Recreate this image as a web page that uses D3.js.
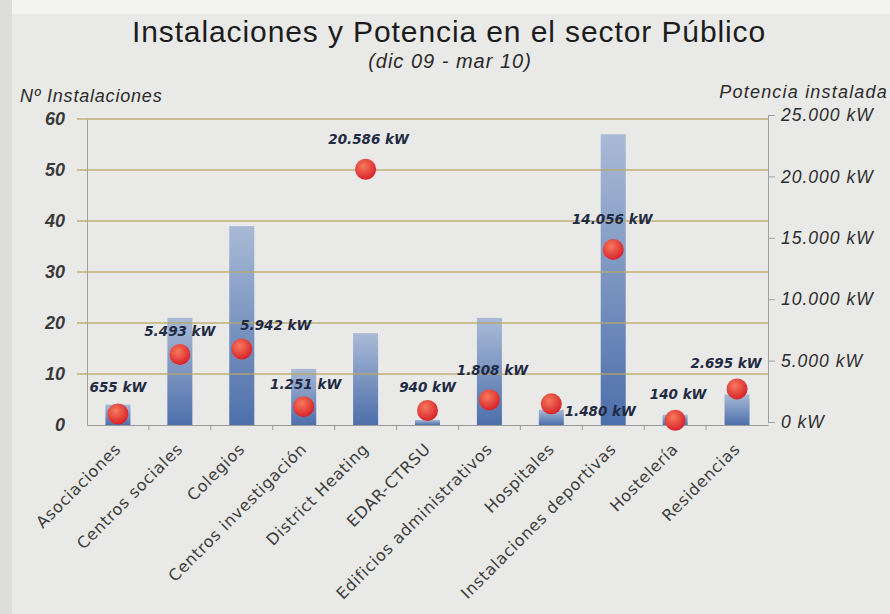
<!DOCTYPE html>
<html>
<head>
<meta charset="utf-8">
<script src="https://cdn.jsdelivr.net/npm/d3@7"></script>
<style>
  body { margin: 0; background: #e9e9e7; }
  svg { display: block; }
</style>
</head>
<body>
<div id="chart"></div>
<script>
// data
const categories = ['Asociaciones', 'Centros sociales', 'Colegios', 'Centros investigación',
    'District Heating', 'EDAR-CTRSU', 'Edificios administrativos', 'Hospitales',
    'Instalaciones deportivas', 'Hostelería', 'Residencias'];
const instalaciones = [4, 21, 39, 11, 18, 1, 21, 3, 57, 2, 6];
const potencia = [655, 5493, 5942, 1251, 20586, 940, 1808, 1480, 14056, 140, 2695];
const leftTicks = [0, 10, 20, 30, 40, 50, 60];
const rightTicks = [0, 5000, 10000, 15000, 20000, 25000];
// label nudges [dx, dy] relative to the dot
const labelNudge = [[0, -22], [0, -19], [34, -19], [2, -18], [3, -25], [0, -18], [3, -25],
    [49, 12], [-1, -25], [3, -21], [-11, -21]];

const width = 890, height = 614;
const plot = { left: 87, right: 768, top: 119, bottom: 425 };

const svg = d3.select('#chart').append('svg')
    .attr('width', width)
    .attr('height', height);

const defs = svg.append('defs');
const barGrad = defs.append('linearGradient').attr('id', 'barGrad')
    .attr('x1', 0).attr('y1', 0).attr('x2', 0).attr('y2', 1);
barGrad.append('stop').attr('offset', '0%').attr('stop-color', '#a9bad6');
barGrad.append('stop').attr('offset', '100%').attr('stop-color', '#4d6fab');
const dotGrad = defs.append('radialGradient').attr('id', 'dotGrad')
    .attr('cx', '40%').attr('cy', '35%').attr('r', '65%');
dotGrad.append('stop').attr('offset', '0%').attr('stop-color', '#f57a5c');
dotGrad.append('stop').attr('offset', '100%').attr('stop-color', '#d9232b');

// scanned paper edge
svg.append('rect').attr('x', 0).attr('y', 0).attr('width', 12).attr('height', height)
    .attr('fill', '#dcdcda');
svg.append('rect').attr('x', 12).attr('y', 0).attr('width', width).attr('height', 14)
    .attr('fill', '#f4f4f2');

// Scales
const x_scale = d3.scaleBand()
    .domain(categories)
    .range([plot.left, plot.right]);

const yL = d3.scaleLinear().domain([0, 60]).range([plot.bottom, plot.top]);
const yR = d3.scaleLinear().domain([0, 25000]).range([422, 115]);

// bars
svg.append('g').selectAll('rect')
    .data(categories)
    .join('rect')
    .attr('x', d => x_scale(d) + x_scale.bandwidth() / 2 - 12.5)
    .attr('width', 25)
    .attr('y', (d, i) => yL(instalaciones[i]))
    .attr('height', (d, i) => yL(0) - yL(instalaciones[i]))
    .attr('fill', 'url(#barGrad)');

// grid lines
svg.append('g').selectAll('line')
    .data(leftTicks.filter(d => d > 0))
    .join('line')
    .attr('x1', plot.left - 10).attr('x2', plot.right)
    .attr('y1', d => yL(d)).attr('y2', d => yL(d))
    .attr('stroke', '#b9a763')
    .attr('stroke-opacity', 0.85)
    .attr('stroke-width', 1.5);

// axes
const x_axis = d3.axisBottom(x_scale).tickSize(0).tickFormat('');
const gx = svg.append('g')
    .attr('transform', `translate(0,${plot.bottom})`)
    .call(x_axis);
gx.select('.domain').attr('stroke', '#9a9a9a').attr('stroke-width', 1.2);
gx.selectAll('.sep')
    .data(d3.range(1, categories.length))
    .join('line')
    .attr('x1', i => plot.left + i * x_scale.step())
    .attr('x2', i => plot.left + i * x_scale.step())
    .attr('y1', 0).attr('y2', 5)
    .attr('stroke', '#9a9a9a');

const y_axisL = d3.axisLeft(yL).tickValues(leftTicks).tickSize(0).tickPadding(22);
const gl = svg.append('g').attr('transform', `translate(${plot.left},0)`).call(y_axisL);
gl.select('.domain').attr('stroke', '#a0a0a0');
gl.selectAll('text')
    .attr('font-family', 'Liberation Sans, Arial, sans-serif')
    .attr('font-size', 18).attr('font-weight', 'bold').attr('font-style', 'italic')
    .attr('fill', '#3a3a3a');

const y_axisR = d3.axisRight(yR).tickValues(rightTicks).tickSize(7).tickPadding(6)
    .tickFormat(d => d3.format(',')(d).replace(/,/g, '.') + ' kW');
const gr = svg.append('g').attr('transform', `translate(${plot.right},0)`).call(y_axisR);
gr.select('.domain').attr('stroke', '#a0a0a0');
gr.selectAll('.tick line').attr('stroke', '#a0a0a0');
gr.selectAll('text')
    .attr('font-family', 'Liberation Sans, Arial, sans-serif')
    .attr('font-size', 17.5).attr('font-style', 'italic')
    .attr('letter-spacing', 1)
    .attr('fill', '#2e2e2e');

// category labels
svg.append('g').selectAll('text')
    .data(categories)
    .join('text')
    .attr('transform', d => `translate(${x_scale(d) + x_scale.bandwidth() / 2 + 4},${plot.bottom + 25}) rotate(-45)`)
    .attr('text-anchor', 'end')
    .attr('font-family', 'DejaVu Sans, sans-serif')
    .attr('font-size', 16)
    .attr('letter-spacing', 0.7)
    .attr('fill', '#3d3d3d')
    .text(d => d);

// power dots
const cx = d => x_scale(d) + x_scale.bandwidth() / 2;
svg.append('g').selectAll('circle')
    .data(categories)
    .join('circle')
    .attr('cx', cx)
    .attr('cy', (d, i) => yR(potencia[i]))
    .attr('r', 10.5)
    .attr('fill', 'url(#dotGrad)');

svg.append('g').selectAll('text')
    .data(categories)
    .join('text')
    .attr('x', (d, i) => cx(d) + labelNudge[i][0])
    .attr('y', (d, i) => yR(potencia[i]) + labelNudge[i][1])
    .attr('text-anchor', 'middle')
    .attr('font-family', 'DejaVu Sans, sans-serif')
    .attr('font-size', 13.5).attr('font-weight', 'bold').attr('font-style', 'italic')
    .attr('fill', '#1f2a44')
    .text((d, i) => d3.format(',')(potencia[i]).replace(/,/g, '.') + ' kW');

// titles
svg.append('text')
    .attr('x', 449).attr('y', 42)
    .attr('text-anchor', 'middle')
    .attr('font-family', 'Liberation Sans, Arial, sans-serif')
    .attr('font-size', 30)
    .attr('letter-spacing', 0.9)
    .attr('fill', '#1c1c1c')
    .text('Instalaciones y Potencia en el sector Público');
svg.append('text')
    .attr('x', 450).attr('y', 68)
    .attr('text-anchor', 'middle')
    .attr('font-family', 'Liberation Sans, Arial, sans-serif')
    .attr('font-size', 20).attr('font-style', 'italic')
    .attr('letter-spacing', 1)
    .attr('fill', '#2b2b2b')
    .text('(dic 09 - mar 10)');
svg.append('text')
    .attr('x', 20).attr('y', 102)
    .attr('font-family', 'Liberation Sans, Arial, sans-serif')
    .attr('font-size', 18).attr('font-style', 'italic')
    .attr('letter-spacing', 0.8)
    .attr('fill', '#2b2b2b')
    .text('Nº Instalaciones');
svg.append('text')
    .attr('x', 888).attr('y', 98)
    .attr('text-anchor', 'end')
    .attr('font-family', 'Liberation Sans, Arial, sans-serif')
    .attr('font-size', 18).attr('font-style', 'italic')
    .attr('letter-spacing', 1.2)
    .attr('fill', '#2b2b2b')
    .text('Potencia instalada');
</script>
</body>
</html>
